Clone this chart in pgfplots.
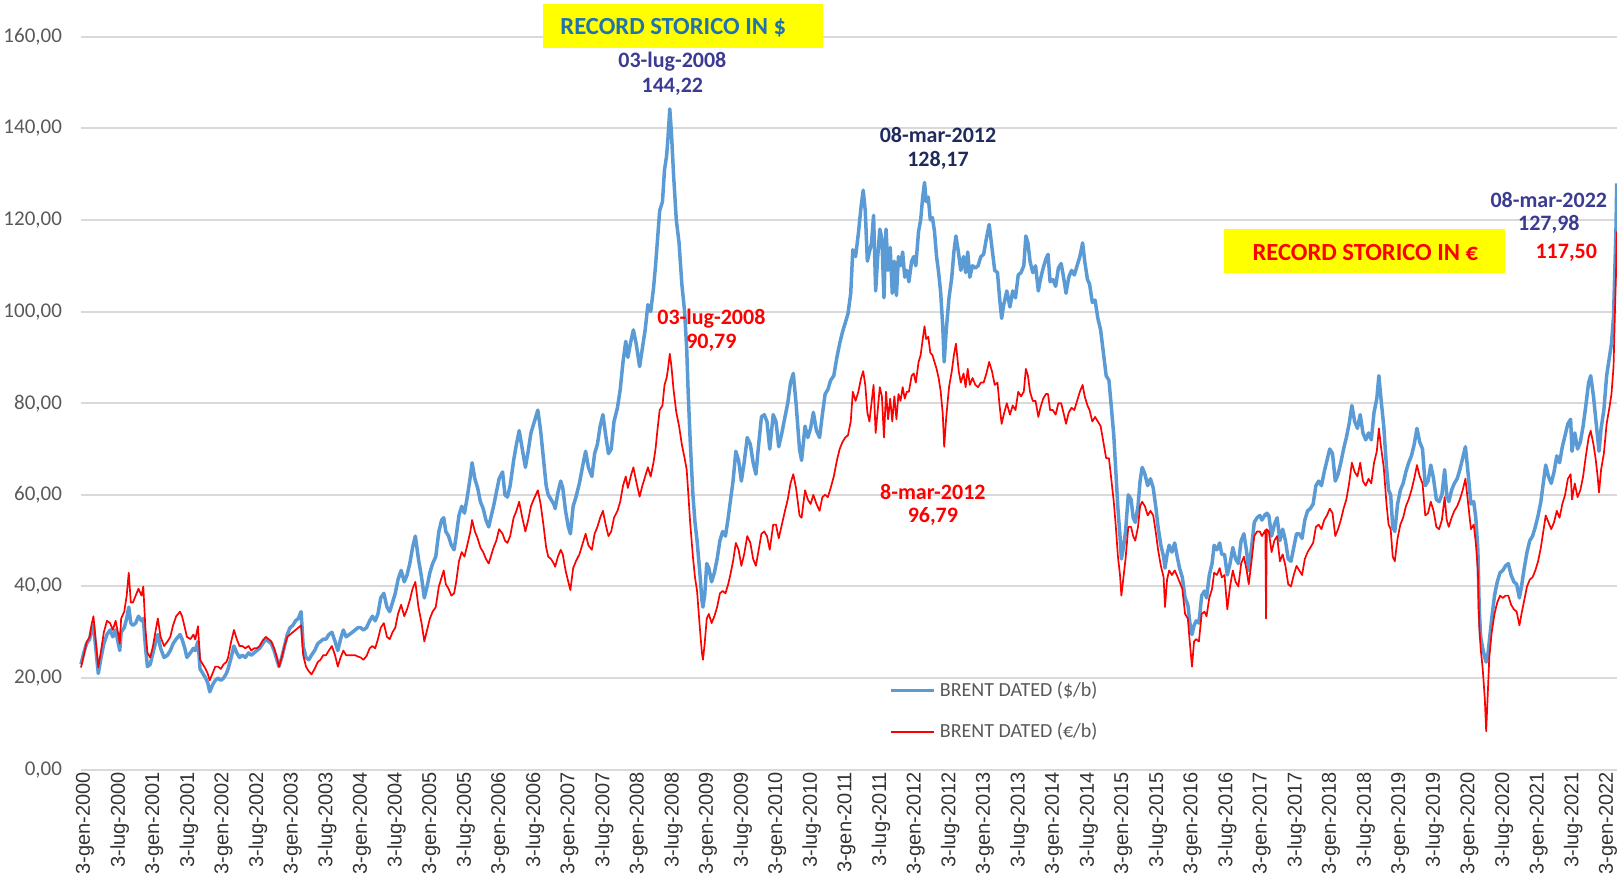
\documentclass[border=0pt]{standalone}
\usepackage{pgfplots}
\usepackage{pgfplotstable}
\pgfplotsset{compat=1.18}
\usepackage{fontspec}
\setmainfont{Carlito}
\newfontfamily\xfont{Liberation Sans}
\definecolor{bl}{HTML}{5B9BD5}
\definecolor{gridc}{HTML}{D9D9D9}
\definecolor{tickc}{HTML}{595959}
\definecolor{ann1}{HTML}{3B3B94}
\definecolor{ann2}{HTML}{1F2B5C}
\definecolor{titc}{HTML}{2073AE}
\definecolor{yel}{HTML}{FFFF00}
\pgfplotstableread{
x usd eur
2000.000 23.0 22.3
2000.040 25.5 25.0
2000.080 27.5 27.8
2000.125 28.5 29.0
2000.150 30.5 31.5
2000.180 31.5 33.5
2000.210 27.0 28.5
2000.250 21.0 22.3
2000.290 24.5 26.0
2000.330 27.5 30.0
2000.375 29.5 32.5
2000.420 30.5 32.0
2000.460 29.0 30.5
2000.500 30.5 32.5
2000.540 27.5 29.5
2000.560 26.0 27.5
2000.580 30.0 33.0
2000.625 31.0 34.5
2000.660 33.0 38.0
2000.690 35.5 43.0
2000.720 32.0 36.5
2000.750 31.5 36.5
2000.790 32.0 38.0
2000.830 33.5 39.5
2000.875 32.5 38.0
2000.900 33.0 40.0
2000.930 27.0 31.0
2000.960 22.5 25.5
2001.000 23.0 24.5
2001.040 25.5 27.0
2001.080 28.0 30.5
2001.110 29.5 33.0
2001.150 26.5 29.0
2001.200 24.5 27.0
2001.250 25.0 28.0
2001.290 26.0 29.0
2001.330 27.5 31.5
2001.375 28.5 33.5
2001.430 29.5 34.5
2001.460 28.5 33.5
2001.500 26.5 31.0
2001.530 24.5 29.0
2001.580 25.5 28.5
2001.625 26.5 29.5
2001.650 26.0 28.4
2001.690 28.0 31.3
2001.720 22.0 24.0
2001.760 21.0 23.0
2001.800 20.0 22.0
2001.830 19.0 21.0
2001.860 17.0 19.5
2001.900 18.5 21.0
2001.940 19.5 22.5
2001.980 20.0 22.5
2002.020 19.5 22.0
2002.060 20.0 23.0
2002.100 21.0 23.5
2002.125 22.0 24.5
2002.170 24.5 28.0
2002.210 27.0 30.5
2002.250 25.5 28.5
2002.290 24.5 27.0
2002.330 25.0 27.0
2002.375 24.5 26.5
2002.420 25.5 27.0
2002.460 25.0 26.0
2002.500 25.5 26.5
2002.540 26.0 26.5
2002.580 26.5 27.0
2002.625 27.5 28.2
2002.670 28.5 29.0
2002.710 28.0 28.5
2002.750 27.5 28.0
2002.790 26.0 26.5
2002.830 24.0 24.5
2002.860 22.5 22.5
2002.900 24.5 24.5
2002.940 27.0 27.0
2002.980 29.5 29.0
2003.020 31.0 29.5
2003.060 31.5 30.0
2003.100 32.5 30.5
2003.140 33.0 31.0
2003.180 34.5 31.5
2003.210 27.0 25.0
2003.250 24.5 22.5
2003.290 24.0 21.5
2003.330 25.0 20.8
2003.375 26.0 22.0
2003.420 27.5 23.5
2003.460 28.0 24.0
2003.500 28.5 25.0
2003.540 28.5 25.0
2003.580 29.5 26.0
2003.625 30.0 27.0
2003.670 28.0 25.0
2003.710 26.0 22.5
2003.750 28.5 24.5
2003.790 30.5 26.0
2003.830 29.0 25.0
2003.875 29.5 25.0
2003.920 30.0 25.0
2003.960 30.5 25.0
2004.000 31.0 24.7
2004.040 31.0 24.5
2004.080 30.5 24.0
2004.125 31.0 24.8
2004.170 32.5 26.5
2004.210 33.5 27.0
2004.250 32.5 26.5
2004.290 34.0 28.5
2004.330 37.5 31.0
2004.375 38.5 32.0
2004.420 35.5 29.0
2004.460 34.5 28.5
2004.500 36.5 30.0
2004.540 38.5 31.0
2004.580 41.5 34.0
2004.625 43.5 36.0
2004.670 41.0 33.5
2004.710 42.5 35.0
2004.750 45.0 37.0
2004.790 48.5 39.5
2004.830 51.0 41.0
2004.875 46.0 35.5
2004.920 42.0 32.0
2004.960 37.5 28.0
2005.000 40.0 30.5
2005.040 43.0 33.0
2005.080 45.0 34.5
2005.125 46.5 35.5
2005.170 52.0 40.0
2005.210 54.5 42.0
2005.240 55.0 43.5
2005.270 52.0 40.5
2005.310 51.0 39.5
2005.350 49.0 38.0
2005.390 48.0 38.5
2005.420 51.0 41.0
2005.460 55.5 45.5
2005.500 57.5 47.5
2005.540 56.0 46.5
2005.580 59.5 49.0
2005.625 64.0 52.0
2005.650 67.0 54.5
2005.690 63.5 52.0
2005.730 61.5 50.5
2005.770 58.5 48.5
2005.810 57.0 47.5
2005.850 54.5 46.0
2005.890 53.0 45.0
2005.920 55.0 46.5
2005.960 57.5 48.5
2006.000 60.5 50.0
2006.040 63.5 52.5
2006.090 65.0 51.5
2006.125 60.0 50.0
2006.160 59.5 49.5
2006.200 62.0 51.0
2006.250 67.5 55.0
2006.290 71.0 56.5
2006.330 74.0 58.5
2006.375 70.0 55.0
2006.420 66.0 52.0
2006.460 69.5 54.5
2006.500 73.5 57.5
2006.540 75.5 59.0
2006.600 78.5 61.0
2006.640 74.0 58.0
2006.680 68.0 53.5
2006.720 62.0 48.5
2006.750 60.0 46.5
2006.790 59.0 46.0
2006.830 58.0 45.0
2006.850 57.0 44.3
2006.890 60.5 46.5
2006.930 63.0 48.0
2006.960 61.5 47.0
2007.000 56.5 43.5
2007.040 53.0 41.0
2007.070 51.5 39.2
2007.110 57.5 44.0
2007.150 59.5 45.5
2007.200 62.5 47.0
2007.250 66.5 49.5
2007.290 69.5 51.5
2007.330 66.0 49.0
2007.380 64.0 48.0
2007.420 69.0 51.5
2007.460 71.0 53.0
2007.500 75.0 55.0
2007.540 77.5 56.5
2007.580 73.0 53.5
2007.620 69.0 51.0
2007.660 70.0 52.0
2007.700 76.0 55.0
2007.750 79.0 56.5
2007.790 83.0 58.5
2007.830 89.0 62.0
2007.870 93.5 64.0
2007.900 90.0 61.5
2007.950 94.0 64.5
2007.980 96.0 66.0
2008.020 93.0 63.0
2008.070 88.0 59.6
2008.110 92.0 62.0
2008.150 96.0 64.0
2008.190 101.5 66.0
2008.230 100.0 64.0
2008.270 105.0 67.0
2008.300 110.0 70.0
2008.330 116.0 74.5
2008.360 122.0 78.5
2008.400 124.0 79.5
2008.430 131.0 84.0
2008.460 134.0 85.5
2008.480 138.0 87.5
2008.506 144.22 90.79
2008.530 139.0 88.0
2008.560 130.0 83.0
2008.600 120.0 78.0
2008.640 115.0 75.0
2008.680 106.0 71.0
2008.720 100.0 68.0
2008.750 92.0 65.5
2008.770 83.0 61.0
2008.800 72.0 54.0
2008.840 60.0 46.5
2008.870 54.0 42.0
2008.900 50.0 39.0
2008.940 43.0 31.0
2008.970 37.0 25.5
2008.985 35.5 24.0
2009.010 38.0 27.5
2009.040 45.0 33.0
2009.070 44.0 34.0
2009.110 41.0 32.0
2009.150 43.0 33.5
2009.190 46.0 35.5
2009.230 50.0 38.5
2009.270 52.0 39.0
2009.310 51.0 38.5
2009.350 55.0 40.5
2009.380 58.5 42.5
2009.420 63.0 45.5
2009.460 69.5 49.5
2009.500 67.5 48.0
2009.540 63.0 44.5
2009.580 67.0 47.0
2009.625 72.5 51.0
2009.670 71.0 49.5
2009.710 67.0 46.0
2009.750 64.5 44.5
2009.790 71.0 48.0
2009.830 77.0 51.5
2009.870 77.5 52.0
2009.910 76.0 51.0
2009.950 70.0 48.0
2010.000 77.5 53.5
2010.040 76.0 53.5
2010.080 70.5 50.5
2010.125 73.5 53.5
2010.170 77.0 56.5
2010.210 80.0 59.0
2010.250 84.5 62.5
2010.290 86.5 64.5
2010.330 80.0 61.5
2010.380 70.0 55.5
2010.410 67.5 55.0
2010.460 75.0 61.0
2010.500 72.5 59.0
2010.540 74.5 58.0
2010.580 78.0 60.0
2010.625 74.0 58.0
2010.670 72.5 56.5
2010.710 77.5 59.5
2010.750 82.0 60.0
2010.790 83.0 59.5
2010.830 85.0 61.5
2010.875 86.0 64.0
2010.920 90.0 67.5
2010.960 93.0 70.0
2011.000 95.5 71.5
2011.040 97.5 72.5
2011.080 99.5 73.0
2011.120 104.0 76.0
2011.150 113.5 82.5
2011.190 112.0 80.5
2011.230 117.0 82.5
2011.270 123.0 85.5
2011.300 126.5 87.0
2011.330 122.0 84.0
2011.360 111.0 78.0
2011.390 113.0 76.0
2011.420 115.0 80.0
2011.450 121.0 84.0
2011.480 104.5 73.5
2011.510 112.0 78.5
2011.540 118.0 83.5
2011.570 116.0 81.5
2011.600 103.0 72.5
2011.630 118.0 82.5
2011.660 109.0 76.5
2011.690 114.0 81.0
2011.720 104.0 76.0
2011.750 111.0 81.5
2011.780 103.5 76.5
2011.810 112.0 82.0
2011.840 110.0 80.5
2011.870 113.0 83.5
2011.900 107.5 81.0
2011.930 109.0 82.5
2011.960 106.5 82.5
2012.000 111.0 86.0
2012.030 112.0 86.5
2012.060 110.0 84.5
2012.100 117.5 89.0
2012.130 120.0 90.5
2012.160 125.0 94.0
2012.186 128.17 96.79
2012.210 124.0 94.0
2012.240 125.0 94.5
2012.270 120.0 91.0
2012.300 120.5 90.5
2012.330 117.5 89.0
2012.360 112.0 87.5
2012.390 108.5 85.5
2012.420 104.0 82.5
2012.450 96.5 77.5
2012.470 89.0 70.5
2012.500 96.0 77.0
2012.540 103.0 83.5
2012.580 107.5 87.0
2012.610 113.0 90.5
2012.640 116.5 93.0
2012.680 112.5 87.0
2012.710 109.0 84.5
2012.750 112.0 86.5
2012.780 108.5 83.5
2012.810 113.0 87.5
2012.840 107.5 84.0
2012.880 110.0 85.5
2012.920 109.5 84.0
2012.960 110.0 83.5
2013.000 112.0 84.5
2013.040 112.5 84.5
2013.080 116.0 86.5
2013.120 119.0 89.0
2013.160 114.0 87.0
2013.200 109.0 84.0
2013.240 108.5 84.5
2013.270 103.0 79.5
2013.300 98.5 75.5
2013.330 101.5 77.5
2013.375 104.5 80.0
2013.420 101.0 77.5
2013.460 104.5 79.5
2013.500 103.0 78.5
2013.540 108.0 82.5
2013.580 108.5 81.5
2013.620 110.0 82.5
2013.650 116.5 87.5
2013.680 115.0 86.0
2013.710 111.0 82.5
2013.750 108.5 80.5
2013.790 110.0 80.5
2013.830 104.5 77.0
2013.860 107.0 79.0
2013.900 109.5 81.0
2013.940 111.5 82.0
2013.970 112.5 82.0
2014.000 106.5 78.5
2014.040 107.0 78.5
2014.080 105.5 77.5
2014.120 109.5 80.0
2014.160 110.5 80.0
2014.200 107.0 77.5
2014.230 104.0 75.5
2014.270 107.5 78.0
2014.310 109.0 79.0
2014.350 108.0 78.5
2014.390 110.0 80.5
2014.430 112.0 82.5
2014.470 115.0 84.0
2014.500 111.0 81.5
2014.540 107.0 79.5
2014.570 106.0 78.5
2014.610 102.0 76.0
2014.650 102.5 77.0
2014.690 98.5 76.0
2014.730 96.0 75.0
2014.770 91.0 71.5
2014.810 86.0 68.0
2014.850 85.0 68.0
2014.880 80.0 64.0
2014.920 73.0 58.5
2014.950 65.0 53.0
2014.980 57.0 46.5
2015.010 51.0 42.5
2015.030 46.0 38.0
2015.060 48.5 42.0
2015.090 52.0 46.0
2015.130 60.0 53.0
2015.170 59.0 53.0
2015.200 55.0 51.0
2015.230 54.0 50.0
2015.270 57.5 53.0
2015.300 63.0 57.5
2015.330 66.0 58.5
2015.370 64.5 57.5
2015.410 62.0 55.5
2015.450 63.5 56.5
2015.490 61.5 55.5
2015.530 57.0 51.5
2015.560 53.0 48.0
2015.600 49.0 44.5
2015.640 46.5 42.0
2015.660 44.0 35.5
2015.690 47.0 41.5
2015.720 49.0 43.5
2015.760 47.5 42.5
2015.800 49.5 43.5
2015.830 47.0 42.5
2015.870 44.0 41.0
2015.910 42.0 39.5
2015.950 37.5 34.0
2015.990 36.0 33.0
2016.020 32.0 27.5
2016.050 29.5 22.5
2016.080 31.5 28.0
2016.110 32.5 28.5
2016.150 32.0 28.0
2016.190 38.0 34.0
2016.230 39.0 34.5
2016.260 37.5 33.5
2016.300 42.5 37.5
2016.340 45.0 39.5
2016.370 49.0 43.0
2016.410 48.0 42.5
2016.450 49.5 44.0
2016.480 47.0 42.0
2016.520 47.0 42.5
2016.560 42.5 35.0
2016.600 45.0 40.0
2016.640 48.5 43.5
2016.680 46.0 41.0
2016.720 45.0 40.0
2016.760 50.0 45.0
2016.800 51.5 46.5
2016.840 47.5 43.5
2016.870 43.5 40.5
2016.910 48.5 45.5
2016.950 54.0 51.0
2016.990 55.0 52.0
2017.030 55.5 52.0
2017.060 54.5 51.0
2017.100 55.5 52.0
2017.110 55.8 52.3
2017.120 55.5 33.0
2017.130 56.0 52.5
2017.160 55.5 52.0
2017.200 51.0 47.5
2017.240 53.5 50.0
2017.280 55.0 51.0
2017.320 50.0 45.5
2017.360 52.5 47.0
2017.400 50.0 44.5
2017.440 46.0 40.5
2017.480 45.5 40.0
2017.520 48.5 42.5
2017.560 51.5 44.5
2017.600 51.5 43.5
2017.640 50.5 42.5
2017.680 54.5 46.0
2017.720 56.5 47.5
2017.760 57.0 48.5
2017.800 58.0 49.5
2017.840 62.0 53.0
2017.880 63.0 53.5
2017.920 62.0 52.5
2017.960 65.0 54.5
2018.000 67.5 55.5
2018.040 70.0 57.0
2018.080 69.0 56.0
2018.120 63.0 51.0
2018.160 64.5 52.5
2018.200 67.0 54.5
2018.240 70.0 57.0
2018.280 72.5 59.0
2018.320 75.5 62.5
2018.360 79.5 67.0
2018.400 76.0 65.0
2018.440 74.5 64.0
2018.480 77.5 67.0
2018.520 73.5 63.0
2018.560 72.0 62.0
2018.600 73.5 63.5
2018.640 72.0 62.5
2018.680 78.0 67.0
2018.720 81.0 69.5
2018.750 86.0 74.5
2018.780 81.0 70.5
2018.820 75.0 66.0
2018.860 66.0 58.0
2018.890 61.0 53.5
2018.920 60.0 52.5
2018.950 53.0 46.5
2018.980 52.0 45.5
2019.020 58.0 50.5
2019.060 61.0 53.5
2019.100 62.5 55.0
2019.140 65.0 57.5
2019.180 67.0 59.0
2019.220 68.5 61.0
2019.260 71.0 63.5
2019.300 74.5 66.5
2019.340 71.5 64.0
2019.380 70.0 62.5
2019.420 62.0 55.5
2019.460 63.0 56.0
2019.500 66.5 58.5
2019.540 63.5 56.5
2019.580 59.0 53.0
2019.620 58.5 52.5
2019.660 60.0 54.5
2019.700 65.5 59.5
2019.730 60.0 54.5
2019.760 58.5 53.0
2019.800 61.0 55.0
2019.840 62.5 56.5
2019.880 63.5 57.5
2019.920 65.5 59.0
2019.960 68.0 61.0
2020.000 70.5 63.5
2020.040 64.5 58.0
2020.080 58.0 52.5
2020.120 58.5 53.5
2020.150 55.0 49.5
2020.180 48.0 43.5
2020.200 35.0 31.5
2020.220 29.0 26.5
2020.250 26.5 22.0
2020.280 24.5 15.5
2020.300 23.5 8.4
2020.320 24.5 15.5
2020.345 28.0 24.5
2020.380 33.0 30.0
2020.420 38.0 34.0
2020.460 41.0 36.5
2020.500 43.0 38.0
2020.540 43.5 37.5
2020.580 44.5 38.0
2020.620 45.0 38.0
2020.660 42.5 36.0
2020.700 41.0 35.0
2020.740 40.5 34.5
2020.780 37.5 31.5
2020.810 40.0 34.0
2020.850 44.0 37.0
2020.890 47.5 40.0
2020.930 50.0 41.5
2020.970 51.0 42.0
2021.010 53.0 43.5
2021.050 55.5 45.5
2021.090 58.5 48.5
2021.120 62.0 51.5
2021.160 66.5 55.5
2021.200 64.0 54.0
2021.240 62.5 52.5
2021.280 65.0 54.0
2021.320 68.5 56.5
2021.360 67.0 55.0
2021.400 70.5 58.0
2021.440 73.0 60.0
2021.480 75.5 63.5
2021.520 76.5 64.5
2021.540 69.5 59.0
2021.580 73.5 62.5
2021.620 70.0 59.5
2021.660 71.5 61.0
2021.700 75.0 64.0
2021.740 79.5 68.5
2021.780 84.5 72.5
2021.810 86.0 74.0
2021.850 81.5 71.0
2021.880 77.0 68.0
2021.910 72.5 64.0
2021.930 69.5 60.5
2021.960 74.5 65.5
2022.000 78.5 69.0
2022.040 86.0 75.5
2022.080 90.0 79.0
2022.110 93.0 82.0
2022.140 99.0 88.0
2022.160 110.0 100.0
2022.175 118.0 108.0
2022.186 127.98 117.50
}\brent
\begin{document}
\begin{tikzpicture}
\begin{axis}[
  scale only axis, width=768pt, height=366.5pt,
  xmin=2000, xmax=2022.19, ymin=0, ymax=160,
  clip=false,
  axis line style={draw=none}, major tick length=0pt,
  ytick={0,20,40,60,80,100,120,140,160},
  ymajorgrids, major grid style={draw=gridc, line width=1pt},
  xtick={2000,2000.5,2001,2001.5,2002,2002.5,2003,2003.5,2004,2004.5,2005,2005.5,2006,2006.5,2007,2007.5,2008,2008.5,2009,2009.5,2010,2010.5,2011,2011.5,2012,2012.5,2013,2013.5,2014,2014.5,2015,2015.5,2016,2016.5,2017,2017.5,2018,2018.5,2019,2019.5,2020,2020.5,2021,2021.5,2022},
  xticklabels={3-gen-2000,3-lug-2000,3-gen-2001,3-lug-2001,3-gen-2002,3-lug-2002,3-gen-2003,3-lug-2003,3-gen-2004,3-lug-2004,3-gen-2005,3-lug-2005,3-gen-2006,3-lug-2006,3-gen-2007,3-lug-2007,3-gen-2008,3-lug-2008,3-gen-2009,3-lug-2009,3-gen-2010,3-lug-2010,3-gen-2011,3-lug-2011,3-gen-2012,3-lug-2012,3-gen-2013,3-lug-2013,3-gen-2014,3-lug-2014,3-gen-2015,3-lug-2015,3-gen-2016,3-lug-2016,3-gen-2017,3-lug-2017,3-gen-2018,3-lug-2018,3-gen-2019,3-lug-2019,3-gen-2020,3-lug-2020,3-gen-2021,3-lug-2021,3-gen-2022},
  xticklabel style={rotate=90, anchor=east, font=\xfont\fontsize{10}{12}\selectfont, text=black!80, yshift=-2pt, inner sep=1pt},
  yticklabel style={font=\fontsize{10.5}{12}\selectfont, text=tickc, xshift=-6pt,
    /pgf/number format/fixed, /pgf/number format/fixed zerofill,
    /pgf/number format/precision=2, /pgf/number format/use comma,
    /pgf/number format/assume math mode=true},
  legend style={draw=none, fill=none, at={(axis cs:2011.67,12.8)}, anchor=west,
    font=\fontsize{10}{12}\selectfont, text=tickc, row sep=8pt, inner sep=0pt},
  legend cell align=left,
  legend image code/.code={\draw[#1] (0cm,0cm) -- (0.76cm,0cm);},
]
\addplot[bl, line width=1.75pt, line join=round] table[x=x, y=usd] {\brent};
\addlegendentry{BRENT DATED (\$/b)}
\addplot[red, line width=0.85pt, line join=round] table[x=x, y=eur] {\brent};
\addlegendentry{BRENT DATED (€/b)}

\fill[yel] (axis cs:2006.674,157.6) rectangle (axis cs:2010.714,167.2);
\node[font=\bfseries\fontsize{12.3}{14}\selectfont, text=titc] at (axis cs:2008.556,162.0) {RECORD STORICO IN \$};
\node[font=\bfseries\fontsize{11}{13}\selectfont, text=ann1] at (axis cs:2008.543,154.5) {03-lug-2008};
\node[font=\bfseries\fontsize{11}{13}\selectfont, text=ann1] at (axis cs:2008.543,149.1) {144,22};
\node[font=\bfseries\fontsize{11}{13}\selectfont, text=red] at (axis cs:2009.107,98.5) {03-lug-2008};
\node[font=\bfseries\fontsize{11}{13}\selectfont, text=red] at (axis cs:2009.107,93.1) {90,79};
\node[font=\bfseries\fontsize{11}{13}\selectfont, text=ann2] at (axis cs:2012.381,138.6) {08-mar-2012};
\node[font=\bfseries\fontsize{11}{13}\selectfont, text=ann2] at (axis cs:2012.381,133.1) {128,17};
\node[font=\bfseries\fontsize{11}{13}\selectfont, text=red] at (axis cs:2012.307,60.6) {8-mar-2012};
\node[font=\bfseries\fontsize{11}{13}\selectfont, text=red] at (axis cs:2012.307,55.2) {96,79};
\node[font=\bfseries\fontsize{11}{13}\selectfont, text=ann1] at (axis cs:2021.205,124.4) {08-mar-2022};
\node[font=\bfseries\fontsize{11}{13}\selectfont, text=ann1] at (axis cs:2021.205,119.0) {127,98};
\node[font=\bfseries\fontsize{11}{13}\selectfont, text=red] at (axis cs:2021.457,112.9) {117,50};
\fill[yel] (axis cs:2016.516,108.4) rectangle (axis cs:2020.570,118.0);
\node[font=\bfseries\fontsize{12.3}{14}\selectfont, text=red] at (axis cs:2018.555,112.9) {RECORD STORICO IN €};
\end{axis}
\pgfresetboundingbox
\path[use as bounding box] ([xshift=-40.5pt,yshift=-59.65pt]current axis.south west) rectangle ([yshift=18.35pt]current axis.north east);
\end{tikzpicture}
\end{document}
